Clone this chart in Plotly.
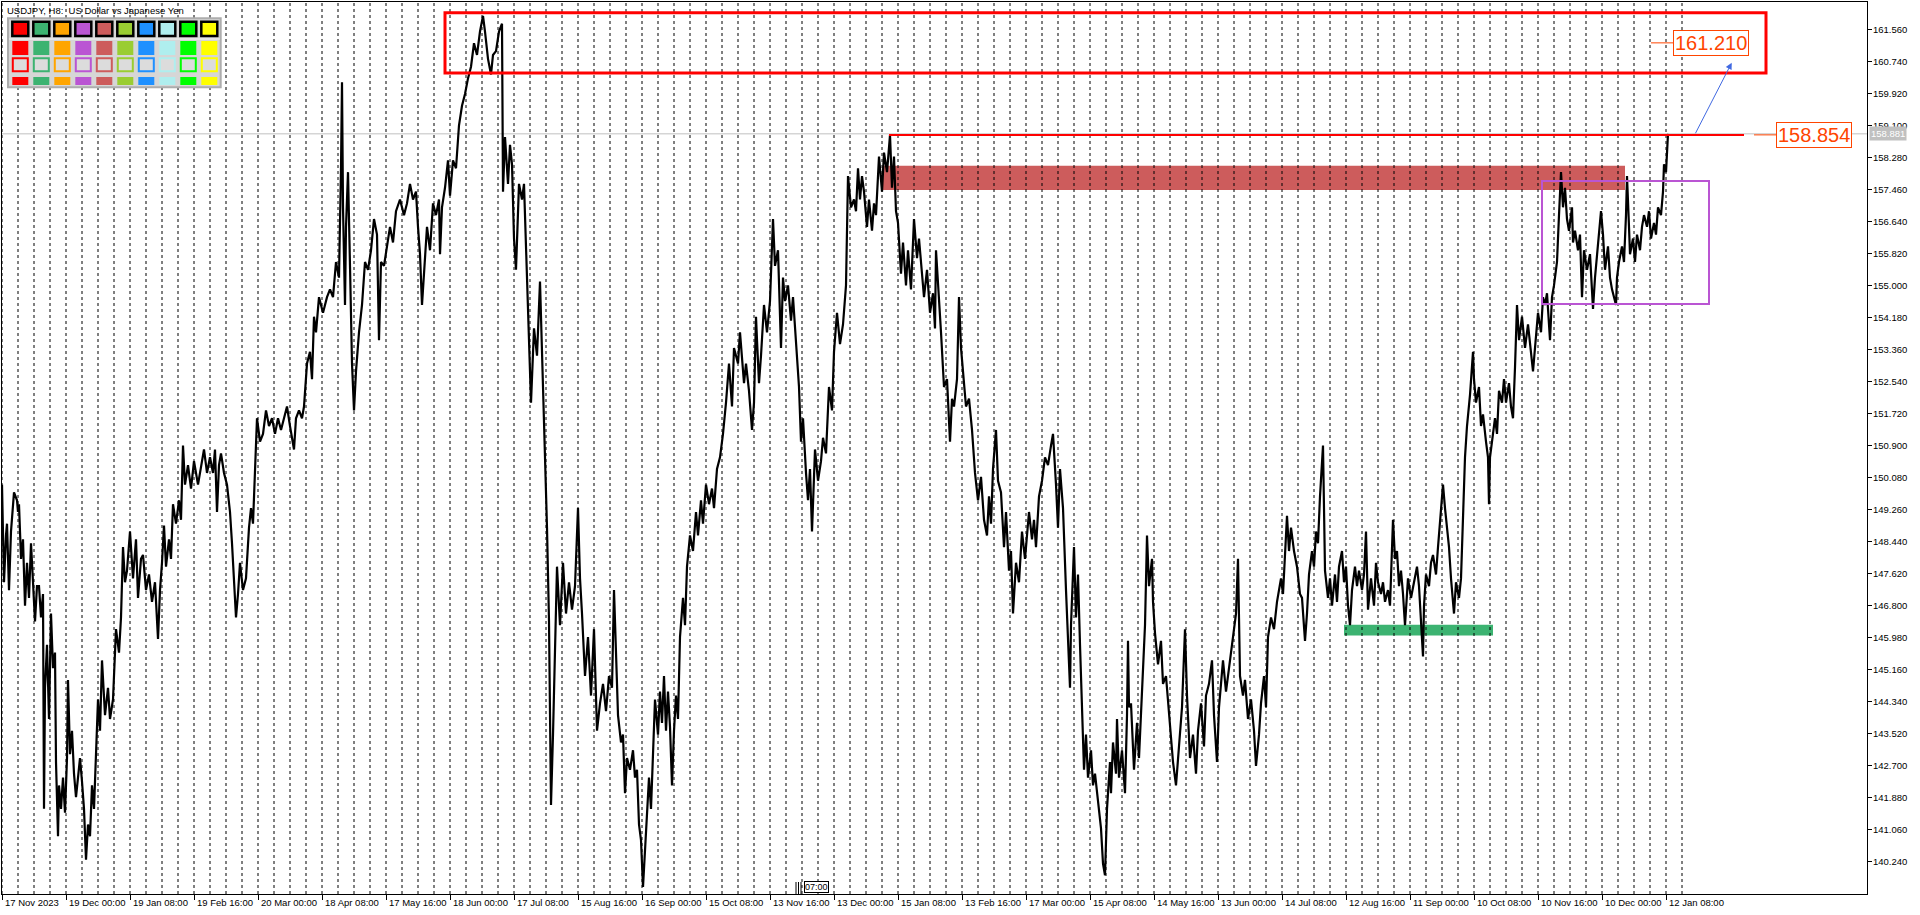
import plotly.graph_objects as go

# ---------------- figure geometry ----------------
W, H = 1920, 915
ML, MR, MT, MB = 2, 53, 2, 21
X_MIN, X_MAX = 0, 1865
Y_BOT, Y_TOP = 139.420, 162.256
FONT = "Tahoma, 'Liberation Sans', Arial, sans-serif"

# ---------------- data (H8 bar number since first visible bar, price) ----------------
path_2023_2024 = [
    (0, 149.9), (2, 147.4), (4, 148.6), (5, 148.9), (7, 147.2), (9, 148.7), (12, 149.7), (15, 149.5), (16, 149.2),
    (17, 149.4), (19, 148.0), (21, 148.5), (23, 146.8), (25, 147.9), (27, 147.0), (29, 148.4), (31, 147.4), (33, 146.4),
    (35, 147.3), (37, 147.3), (39, 146.5), (41, 147.1), (42, 141.6), (43, 144.7), (45, 145.8), (47, 143.9), (49, 146.6),
    (51, 145.2), (53, 145.6), (54, 142.8), (56, 140.9), (57, 142.2), (59, 141.6), (61, 142.4), (63, 141.5), (65, 142.9),
    (66, 144.9), (68, 143.0), (70, 143.6), (72, 142.5), (74, 141.9), (76, 142.5), (78, 142.9), (80, 142.3), (82, 141.6),
    (84, 140.3), (86, 141.2), (88, 140.9), (90, 142.2), (92, 141.6), (94, 142.9), (96, 144.4), (98, 143.6), (100, 145.4),
    (103, 144.0), (106, 144.7), (108, 143.9), (111, 144.4), (114, 146.2), (117, 145.6), (119, 146.5), (121, 148.3),
    (123, 147.4), (125, 147.7), (128, 148.7), (131, 147.5), (134, 148.5), (136, 147.0), (139, 148.0), (141, 148.1),
    (144, 147.2), (147, 147.6), (150, 146.9), (153, 147.4), (156, 145.95), (158, 147.2), (160, 147.9), (162, 148.85),
    (164, 147.8), (167, 148.5), (169, 148.0), (171, 149.4), (174, 148.9), (177, 149.5), (179, 149.0), (181, 150.9),
    (183, 149.9), (186, 150.4), (189, 149.8), (192, 150.5), (196, 149.9), (199, 150.4), (202, 150.8), (205, 150.2),
    (208, 150.6), (211, 150.2), (213, 150.8), (215, 149.2), (217, 150.4), (219, 150.7), (222, 150.2), (225, 149.9),
    (228, 149.2), (230, 148.4), (232, 147.4), (234, 146.5), (236, 147.1), (238, 147.9), (241, 147.2), (244, 147.5),
    (247, 148.8), (249, 149.3), (251, 148.9), (253, 150.4), (255, 151.6), (258, 151.0), (261, 151.2), (264, 151.8),
    (267, 151.4), (270, 151.6), (273, 151.2), (276, 151.6), (279, 151.3), (282, 151.6), (285, 151.9), (288, 151.4),
    (292, 150.8), (294, 151.6), (297, 151.8), (300, 151.6), (302, 151.9), (305, 153.0), (308, 153.3), (310, 152.6),
    (312, 154.2), (314, 153.8), (317, 154.7), (321, 154.3), (325, 154.7), (328, 154.9), (331, 154.7), (334, 155.6),
    (337, 155.2), (339, 158.0), (340, 160.2), (341, 157.0), (343, 154.5), (344, 156.5), (346, 157.9), (348, 155.5),
    (350, 153.0), (352, 151.8), (354, 152.8), (357, 153.8), (360, 154.5), (363, 155.6), (366, 155.4), (369, 155.9),
    (372, 156.7), (375, 156.3), (377, 153.6), (379, 155.6), (382, 155.5), (385, 156.0), (388, 156.5), (391, 156.1),
    (394, 156.9), (398, 157.2), (402, 156.8), (405, 157.1), (408, 157.6), (411, 157.2), (414, 157.4), (416, 156.5),
    (418, 155.8), (420, 154.5), (423, 155.6), (425, 156.5), (428, 155.9), (431, 157.1), (434, 156.8), (437, 157.2),
    (438, 155.8), (440, 157.0), (443, 157.5), (446, 158.2), (448, 157.3), (451, 158.2), (454, 158.0), (457, 159.1),
    (460, 159.6), (463, 159.9), (466, 160.3), (469, 160.6), (472, 161.2), (475, 160.9), (478, 161.5), (481, 161.9),
    (483, 161.5), (486, 160.8), (489, 160.4), (491, 160.9), (494, 161.0), (497, 161.5), (500, 161.7), (501, 157.4),
    (503, 158.8), (506, 157.6), (508, 158.6), (510, 158.1), (512, 156.2), (514, 155.4), (517, 157.6), (520, 157.2),
    (522, 157.6), (525, 155.0), (527, 153.5), (529, 152.0), (532, 153.9), (535, 153.2), (538, 155.1), (540, 153.4),
    (542, 151.3), (545, 148.8), (547, 146.4), (549, 141.7), (551, 143.5), (553, 145.9), (555, 147.8), (558, 146.3),
    (561, 147.9), (564, 146.6), (567, 147.4), (570, 146.7), (573, 147.3), (576, 149.3), (578, 147.5), (580, 146.6),
    (583, 145.0), (586, 146.0), (589, 144.5), (592, 146.2), (595, 143.6), (598, 144.3), (601, 144.8), (604, 144.1),
    (607, 145.0), (610, 144.7), (612, 147.2), (614, 145.6),
]

path_2024_2025 = [
    (616, 144.0), (619, 143.3), (621, 143.5), (623, 142.0), (625, 142.9), (628, 142.6), (631, 143.1), (633, 142.4),
    (635, 142.6), (637, 141.2), (639, 140.8), (641, 139.6), (643, 140.6), (645, 141.4), (647, 142.4), (649, 141.6),
    (651, 143.2), (653, 144.4), (656, 143.5), (658, 144.6), (660, 143.8), (662, 145.0), (664, 143.6), (666, 144.6),
    (668, 143.7), (670, 142.2), (672, 143.6), (674, 144.5), (676, 143.9), (678, 146.0), (681, 147.0), (683, 146.3),
    (685, 147.8), (688, 148.6), (691, 148.2), (694, 149.2), (696, 148.6), (699, 149.5), (701, 148.9), (704, 149.9),
    (707, 149.4), (710, 149.8), (712, 149.3), (715, 150.3), (718, 150.6), (721, 151.2), (724, 152.0), (727, 153.0),
    (730, 151.9), (732, 153.4), (736, 153.0), (738, 153.8), (742, 152.5), (744, 153.0), (747, 152.3), (750, 151.3),
    (752, 152.0), (754, 154.2), (755, 153.6), (757, 152.5), (759, 153.2), (762, 154.5), (765, 153.8), (768, 154.6),
    (771, 156.7), (773, 155.5), (776, 155.9), (779, 153.4), (781, 155.2), (783, 154.6), (786, 155.0), (789, 154.1),
    (791, 154.7), (794, 153.4), (797, 152.4), (799, 151.0), (801, 151.6), (804, 150.2), (806, 149.5), (808, 150.3),
    (810, 148.7), (813, 150.8), (816, 150.0), (819, 150.5), (821, 151.1), (824, 150.7), (827, 152.4), (830, 151.8),
    (832, 153.3), (835, 154.3), (838, 153.5), (841, 154.0), (844, 155.0), (846, 157.8), (849, 157.0), (852, 157.2),
    (854, 156.9), (856, 158.0), (858, 157.2), (860, 157.8), (862, 157.4), (865, 156.5), (867, 157.2), (870, 156.4),
    (872, 157.1), (874, 156.8), (877, 158.3), (880, 157.4), (882, 158.4), (885, 157.9), (888, 158.85), (890, 157.5),
    (892, 158.3), (894, 156.9), (896, 156.6), (899, 155.3), (901, 156.1), (904, 155.0), (906, 155.9), (909, 154.9),
    (912, 156.7), (915, 155.7), (917, 156.2), (919, 155.6), (922, 154.7), (925, 155.4), (928, 154.3), (931, 154.8),
    (933, 153.9), (934, 155.9), (937, 154.8), (939, 153.8), (942, 152.4), (945, 152.6), (948, 151.0), (950, 152.1),
    (952, 151.9), (955, 152.6), (957, 154.7), (959, 153.4), (961, 152.8), (964, 151.9), (967, 152.1), (970, 151.3),
    (973, 150.2), (976, 149.5), (979, 150.1), (982, 149.0), (985, 148.6), (987, 149.6), (989, 148.9), (991, 150.3),
    (994, 151.3), (996, 150.0), (999, 149.7), (1002, 148.3), (1004, 149.2), (1007, 147.7), (1009, 148.2), (1011, 146.6),
    (1014, 147.9), (1017, 147.4), (1020, 148.7), (1023, 148.0), (1027, 149.2), (1030, 148.5), (1032, 149.0),
    (1034, 148.3), (1037, 149.6), (1040, 150.0), (1043, 150.6), (1046, 150.4), (1049, 150.9), (1051, 151.2),
    (1054, 149.9), (1056, 148.8), (1058, 150.3), (1061, 149.3), (1064, 147.2), (1066, 146.0), (1068, 144.7),
    (1069, 146.3), (1072, 148.3), (1074, 146.5), (1076, 147.6), (1078, 145.8), (1080, 144.2), (1082, 142.6),
    (1084, 143.5), (1086, 142.4), (1089, 143.1), (1091, 142.2), (1093, 142.5), (1096, 141.8), (1099, 141.1),
    (1101, 140.2), (1103, 139.9), (1105, 141.6), (1108, 142.8), (1109, 142.0), (1111, 143.3), (1114, 142.5),
    (1115, 143.9), (1117, 142.4), (1120, 143.1), (1123, 142.0), (1125, 144.0), (1126, 145.9), (1127, 144.2),
    (1129, 144.3), (1132, 142.6), (1135, 143.8), (1137, 142.9), (1140, 144.6), (1143, 146.3), (1145, 148.6),
    (1147, 147.3), (1150, 148.0), (1151, 146.9), (1153, 146.1), (1156, 145.3), (1159, 145.9), (1161, 144.8),
    (1164, 145.0), (1166, 144.4), (1168, 143.8), (1171, 142.8), (1174, 142.2), (1177, 143.3), (1180, 144.2),
    (1183, 146.2), (1185, 144.5), (1188, 142.9), (1191, 143.5), (1194, 142.5), (1196, 143.6), (1199, 144.3),
    (1202, 143.2), (1204, 144.5), (1207, 144.8), (1210, 145.4), (1212, 144.0), (1215, 142.8), (1217, 144.2),
]

path_2025_2026 = [
    (1219, 144.8), (1221, 145.4), (1224, 144.6), (1227, 145.2), (1231, 145.9), (1234, 146.6), (1236, 148.0),
    (1238, 145.0), (1241, 144.5), (1243, 144.9), (1246, 143.9), (1249, 144.4), (1252, 143.6), (1254, 142.7),
    (1257, 143.5), (1259, 144.3), (1262, 145.0), (1264, 144.2), (1266, 146.0), (1269, 146.5), (1272, 146.2),
    (1275, 146.9), (1279, 147.5), (1281, 147.1), (1285, 149.1), (1287, 148.2), (1289, 148.8), (1292, 148.2),
    (1295, 147.8), (1298, 147.1), (1300, 147.0), (1303, 145.9), (1305, 146.6), (1307, 147.6), (1310, 148.2),
    (1312, 147.8), (1314, 148.7), (1316, 148.4), (1318, 149.6), (1321, 150.9), (1323, 147.7), (1326, 147.0),
    (1328, 147.5), (1330, 146.8), (1333, 147.6), (1335, 146.9), (1337, 147.8), (1340, 148.2), (1342, 147.4),
    (1344, 147.8), (1346, 146.8), (1348, 146.3), (1350, 147.2), (1353, 147.8), (1355, 147.3), (1357, 147.7),
    (1360, 147.2), (1362, 147.6), (1364, 148.7), (1366, 146.7), (1369, 147.5), (1372, 146.8), (1374, 147.9),
    (1376, 147.4), (1379, 147.1), (1381, 147.4), (1383, 146.9), (1386, 147.2), (1388, 146.8), (1390, 148.0),
    (1391, 149.0), (1393, 148.0), (1395, 148.2), (1397, 147.3), (1399, 147.7), (1401, 147.1), (1403, 146.3),
    (1406, 147.5), (1409, 147.0), (1412, 147.4), (1415, 147.8), (1417, 147.3), (1419, 146.5), (1421, 145.5),
    (1422, 146.8), (1424, 147.6), (1427, 147.3), (1429, 147.9), (1431, 148.1), (1434, 147.6), (1436, 148.3),
    (1438, 149.0), (1441, 149.9), (1443, 149.3), (1445, 148.8), (1447, 148.3), (1449, 147.5), (1452, 146.6),
    (1454, 147.4), (1457, 147.0), (1459, 147.5), (1461, 149.2), (1463, 150.6), (1465, 151.4), (1468, 152.2),
    (1471, 153.3), (1472, 152.6), (1474, 152.0), (1477, 152.4), (1479, 151.4), (1481, 151.7), (1484, 151.0),
    (1486, 150.6), (1487, 149.4), (1488, 150.6), (1490, 151.0), (1493, 151.6), (1495, 151.2), (1497, 152.3),
    (1500, 152.0), (1502, 152.6), (1504, 152.0), (1507, 152.5), (1509, 151.9), (1511, 151.6), (1513, 152.9),
    (1515, 154.5), (1517, 153.6), (1520, 154.2), (1523, 153.4), (1526, 154.0), (1531, 152.8), (1534, 153.6),
    (1536, 154.3), (1539, 153.8), (1541, 154.7), (1543, 154.5), (1545, 154.8), (1548, 153.6), (1550, 154.7),
    (1552, 155.0), (1555, 155.6), (1557, 156.8), (1559, 157.9), (1561, 157.0), (1563, 157.5), (1565, 156.7),
    (1567, 156.4), (1570, 157.0), (1571, 156.1), (1573, 156.4), (1576, 155.9), (1578, 156.3), (1580, 154.7),
    (1582, 155.9), (1585, 155.4), (1588, 155.8), (1591, 154.4), (1593, 155.2), (1596, 156.0), (1599, 156.9),
    (1601, 156.3), (1603, 155.4), (1606, 156.0), (1608, 155.2), (1610, 154.9), (1614, 154.5), (1615, 155.2),
    (1617, 155.6), (1620, 156.0), (1622, 155.6), (1624, 156.8), (1625, 157.8), (1627, 156.5), (1628, 155.8),
    (1631, 156.2), (1633, 155.6), (1635, 156.3), (1638, 155.9), (1640, 156.5), (1642, 156.8), (1645, 156.5),
    (1647, 156.9), (1649, 156.2), (1652, 156.6), (1654, 156.3), (1656, 157.0), (1659, 156.8), (1661, 157.4),
    (1662, 158.1), (1664, 157.9), (1666, 158.88),
]

date_labels = [
    "17 Nov 2023", "19 Dec 00:00", "19 Jan 08:00", "19 Feb 16:00", "20 Mar 00:00", "18 Apr 08:00",
    "17 May 16:00", "18 Jun 00:00", "17 Jul 08:00", "15 Aug 16:00", "16 Sep 00:00", "15 Oct 08:00",
    "13 Nov 16:00", "13 Dec 00:00", "15 Jan 08:00", "13 Feb 16:00", "17 Mar 00:00", "15 Apr 08:00",
    "14 May 16:00", "13 Jun 00:00", "14 Jul 08:00", "12 Aug 16:00", "11 Sep 00:00", "10 Oct 08:00",
    "10 Nov 16:00", "10 Dec 00:00", "12 Jan 08:00",
]
bars_per_label = 64
bars_per_grid = 16
grid_last_bar = 1680

price_tick_labels = [
    "161.560", "160.740", "159.920", "159.100", "158.280", "157.460", "156.640", "155.820", "155.000",
    "154.180", "153.360", "152.540", "151.720", "150.900", "150.080", "149.260", "148.440", "147.620",
    "146.800", "145.980", "145.160", "144.340", "143.520", "142.700", "141.880", "141.060", "140.240",
]

palette_colors = ["#FF0000", "#3CB371", "#FFA500", "#BA55D3", "#CD5C5C",
                  "#9ACD32", "#1E90FF", "#AFEEEE", "#00FF00", "#FFFF00"]

# chart objects (bar number / price anchors)
resistance_zone = dict(x0=443, x1=1764, y0=160.44, y1=161.98)
target_level = 161.210
high_level = 158.854
high_line_bars = (887, 1742)
supply_zone = dict(x0=880, x1=1623, y0=157.44, y1=158.065)
range_box = dict(x0=1540, x1=1707, y0=154.525, y1=157.676)
support_zone = dict(x0=1342, x1=1491, y0=146.04, y1=146.31)
bid_price = 158.881
title_text = "USDJPY, H8:\u00a0 US Dollar vs Japanese Yen"

# ---------------- helpers ----------------
PW = W - ML - MR
PH = H - MT - MB


def pxx(px):
    return (px - ML) / PW


def pxy(py):
    return (H - MB - py) / PH


bars = [b for b, _ in path_2023_2024 + path_2024_2025 + path_2025_2026]
prices = [p for _, p in path_2023_2024 + path_2024_2025 + path_2025_2026]

fig = go.Figure()

# dashed vertical grid (only over the bar area)
gx, gy = [], []
for g in range(0, grid_last_bar + 1, bars_per_grid):
    gx += [g, g, None]
    gy += [Y_BOT, Y_TOP, None]
fig.add_trace(go.Scatter(x=gx, y=gy, mode="lines", line=dict(color="black", width=1, dash="3px,3px"),
                         hoverinfo="skip", showlegend=False))

# price
fig.add_trace(go.Scatter(x=bars, y=prices, mode="lines", line=dict(color="black", width=2.2),
                         hoverinfo="skip", showlegend=False))

shapes = []
# bid line
shapes.append(dict(type="line", xref="x", yref="y", x0=X_MIN, x1=X_MAX, y0=bid_price, y1=bid_price,
                   line=dict(color="#C0C0C0", width=1), layer="below"))
# filled zones (behind bars and grid)
shapes.append(dict(type="rect", xref="x", yref="y", **supply_zone, fillcolor="#CD5C5C",
                   line=dict(width=0), layer="below"))
shapes.append(dict(type="rect", xref="x", yref="y", **support_zone, fillcolor="#3CB371",
                   line=dict(width=0), layer="below"))
# outlined boxes
shapes.append(dict(type="rect", xref="x", yref="y", **resistance_zone, fillcolor="rgba(0,0,0,0)",
                   line=dict(color="#FF0000", width=3), layer="above"))
shapes.append(dict(type="rect", xref="x", yref="y", **range_box, fillcolor="rgba(0,0,0,0)",
                   line=dict(color="#BA55D3", width=2), layer="above"))
# high line
shapes.append(dict(type="line", xref="x", yref="y", x0=high_line_bars[0], x1=high_line_bars[1],
                   y0=high_level, y1=high_level, line=dict(color="#FF0000", width=2), layer="above"))
# price label connectors
shapes.append(dict(type="line", xref="x", yref="y", x0=1649, x1=1671, y0=target_level, y1=target_level,
                   line=dict(color="#FF4500", width=1), layer="above"))
shapes.append(dict(type="line", xref="x", yref="y", x0=1752, x1=1774, y0=high_level, y1=high_level,
                   line=dict(color="#FF4500", width=1), layer="above"))

# time-shift marker bars near 07:00
for px in (796, 798.5, 801):
    shapes.append(dict(type="line", xref="paper", yref="paper", x0=pxx(px), x1=pxx(px),
                       y0=pxy(882), y1=pxy(894), line=dict(color="black", width=1), layer="above"))

# colour palette panel
shapes.append(dict(type="rect", xref="paper", yref="paper", x0=pxx(8), x1=pxx(220.7), y0=pxy(87.3), y1=pxy(18.3),
                   fillcolor="#D6D6D6", line=dict(color="#ADADAD", width=2), layer="above"))
shapes.append(dict(type="line", xref="paper", yref="paper", x0=pxx(9), x1=pxx(220), y0=pxy(39), y1=pxy(39),
                   line=dict(color="#F2F2F2", width=1), layer="above"))
for i, col in enumerate(palette_colors):
    x0 = 12.3 + 21 * i
    x1 = x0 + 16
    shapes.append(dict(type="rect", xref="paper", yref="paper", x0=pxx(x0), x1=pxx(x1), y0=pxy(36), y1=pxy(21.7),
                       fillcolor=col, line=dict(color="black", width=2.5), layer="above"))
    shapes.append(dict(type="rect", xref="paper", yref="paper", x0=pxx(x0), x1=pxx(x1), y0=pxy(55), y1=pxy(41),
                       fillcolor=col, line=dict(width=0), layer="above"))
    shapes.append(dict(type="rect", xref="paper", yref="paper", x0=pxx(x0 + 0.5), x1=pxx(x1 - 0.5), y0=pxy(71.2), y1=pxy(58.2),
                       fillcolor="#DCDCDC", line=dict(color=col, width=2), layer="above"))
    shapes.append(dict(type="rect", xref="paper", yref="paper", x0=pxx(x0), x1=pxx(x1), y0=pxy(85), y1=pxy(77),
                       fillcolor=col, line=dict(width=0), layer="above"))

annotations = []
# title
annotations.append(dict(xref="paper", yref="paper", x=pxx(5), y=pxy(10), xanchor="left", yanchor="middle",
                        text=title_text, showarrow=False, font=dict(family=FONT, size=9.5, color="black")))
# date labels
for k, lab in enumerate(date_labels):
    annotations.append(dict(xref="x", yref="paper", x=k * bars_per_label, y=0, xanchor="left", yanchor="top",
                            xshift=1, yshift=-1, text=lab, showarrow=False,
                            font=dict(family=FONT, size=9.5, color="black")))
# price scale labels (left-aligned just right of the tick marks)
for lab in price_tick_labels:
    annotations.append(dict(xref="paper", yref="y", x=pxx(1872), y=float(lab), xanchor="left", yanchor="middle",
                            text=lab, showarrow=False, borderpad=0,
                            font=dict(family=FONT, size=9.5, color="black")))
# price boxes
annotations.append(dict(xref="x", yref="y", x=1671, y=target_level, xanchor="left", yanchor="middle",
                        text=f"{target_level:.3f}", showarrow=False, bgcolor="white",
                        bordercolor="#FF4500", borderwidth=1, borderpad=1,
                        font=dict(family="'Liberation Sans', Arial, sans-serif", size=20, color="#FF4500")))
annotations.append(dict(xref="x", yref="y", x=1774, y=high_level, xanchor="left", yanchor="middle",
                        text=f"{high_level:.3f}", showarrow=False, bgcolor="white",
                        bordercolor="#FF4500", borderwidth=1, borderpad=1,
                        font=dict(family="'Liberation Sans', Arial, sans-serif", size=20, color="#FF4500")))
# blue arrow
annotations.append(dict(xref="x", yref="y", x=1729.7, y=160.70, ax=-37, ay=72, axref="pixel", ayref="pixel",
                        text="", showarrow=True, arrowhead=2, arrowsize=1.3, arrowwidth=1,
                        arrowcolor="#4169E1", standoff=0))
# bid label on axis
annotations.append(dict(xref="paper", yref="y", x=pxx(1869), y=bid_price, xanchor="left", yanchor="middle",
                        text=f"{bid_price:.3f}", showarrow=False, bgcolor="#C0C0C0", borderpad=1,
                        font=dict(family=FONT, size=9.5, color="white")))
# 07:00 marker
annotations.append(dict(xref="paper", yref="paper", x=pxx(803.5), y=pxy(886.5), xanchor="left", yanchor="middle",
                        text="07:00", showarrow=False, bgcolor="white", bordercolor="black", borderwidth=1,
                        borderpad=0, font=dict(family=FONT, size=9, color="black")))

fig.update_layout(
    width=W, height=H,
    margin=dict(l=ML, r=MR, t=MT, b=MB, pad=0),
    paper_bgcolor="white", plot_bgcolor="white",
    showlegend=False,
    shapes=shapes, annotations=annotations,
    xaxis=dict(range=[X_MIN, X_MAX], showgrid=False, zeroline=False, automargin=False,
               tickvals=[k * bars_per_label for k in range(len(date_labels))],
               ticktext=[""] * len(date_labels), ticks="outside", ticklen=5, tickcolor="black",
               showline=True, linecolor="black", linewidth=1, mirror=True, fixedrange=True),
    yaxis=dict(range=[Y_BOT, Y_TOP], side="right", showgrid=False, zeroline=False, automargin=False,
               tickvals=[float(t) for t in price_tick_labels], ticktext=[""] * len(price_tick_labels),
               ticks="outside", ticklen=4, tickcolor="black",
               showline=True, linecolor="black", linewidth=1, mirror=True, fixedrange=True),
)

fig.write_html(
    "out.html",
    config={"displayModeBar": False},
    post_script="document.body.style.margin='0';document.body.style.padding='0';"
                "document.body.style.overflow='hidden';",
)
